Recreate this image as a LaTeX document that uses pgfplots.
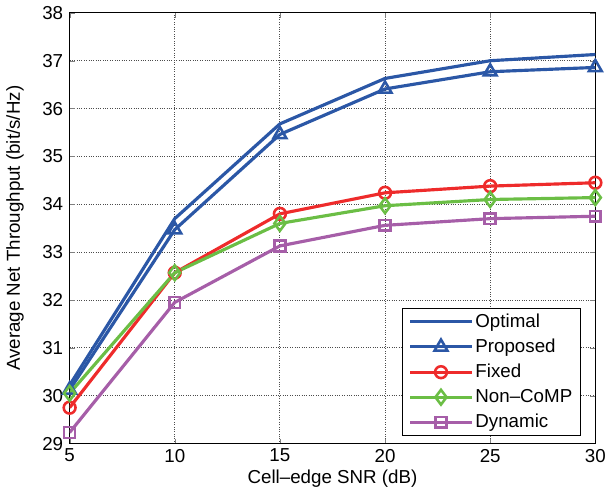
\documentclass[border=0pt]{standalone}
\usepackage{fontspec}
\setmainfont{Liberation Sans}
\usepackage{pgfplots}
\pgfplotsset{compat=1.18}
\definecolor{cblue}{RGB}{43,87,166}
\definecolor{cred}{RGB}{238,43,43}
\definecolor{cgreen}{RGB}{107,190,69}
\definecolor{cpurple}{RGB}{166,94,168}
\begin{document}
\fontsize{19}{22}\selectfont
\begin{tikzpicture}
\begin{axis}[
  scale only axis,
  width=531bp, height=435bp,
  xmin=5, xmax=30, ymin=29, ymax=38,
  xtick={5,10,...,30}, ytick={29,30,...,38},
  /pgf/number format/assume math mode=true,
  tick label style={font=\fontsize{19}{22}\selectfont},
  label style={font=\fontsize{19}{22}\selectfont},
  xlabel={Cell\textendash edge SNR (dB)},
  ylabel={Average Net Throughput (bit/s/Hz)},
  xlabel style={yshift=5pt},
  ylabel style={yshift=6pt},
  xticklabel style={yshift=1pt},
  grid=major,
  major grid style={black!70, dotted, line width=0.9pt},
  tick align=inside,
  major tick length=5bp,
  axis line style={line width=0.9pt},
  mystyle/.style={line width=3.2pt, mark options={line width=2.6pt, solid}},
  legend style={font=\fontsize{19}{22}\selectfont, draw=black, line width=0.9pt, inner xsep=6pt, inner ysep=3pt, row sep=5pt, at={(0.972,0.018)}, anchor=south east},
  legend cell align=left,
  legend image code/.code={
    \draw[#1] (0cm,0cm) -- (0.8cm,0cm) -- (2.2cm,0cm);
    \path[#1] plot coordinates {(1.1cm,0cm)};
  },
]
\addplot[cblue, mystyle, mark=none] coordinates {(5,30.22) (10,33.7) (15,35.68) (20,36.63) (25,37.0) (30,37.13)};
\addlegendentry{Optimal}
\addplot[cblue, mystyle, mark=triangle, mark size=7.5pt] coordinates {(5,30.12) (10,33.47) (15,35.46) (20,36.41) (25,36.77) (30,36.86)};
\addlegendentry{Proposed}
\addplot[cred, mystyle, mark=o, mark size=6pt] coordinates {(5,29.75) (10,32.57) (15,33.8) (20,34.24) (25,34.38) (30,34.45)};
\addlegendentry{Fixed}
\addplot[cgreen, mystyle, mark=diamond, mark size=7.5pt] coordinates {(5,30.05) (10,32.57) (15,33.6) (20,33.97) (25,34.1) (30,34.14)};
\addlegendentry{Non\textendash CoMP}
\addplot[cpurple, mystyle, mark=square, mark size=5.5pt] coordinates {(5,29.23) (10,31.95) (15,33.13) (20,33.56) (25,33.7) (30,33.75)};
\addlegendentry{Dynamic}
\end{axis}
\end{tikzpicture}
\end{document}
